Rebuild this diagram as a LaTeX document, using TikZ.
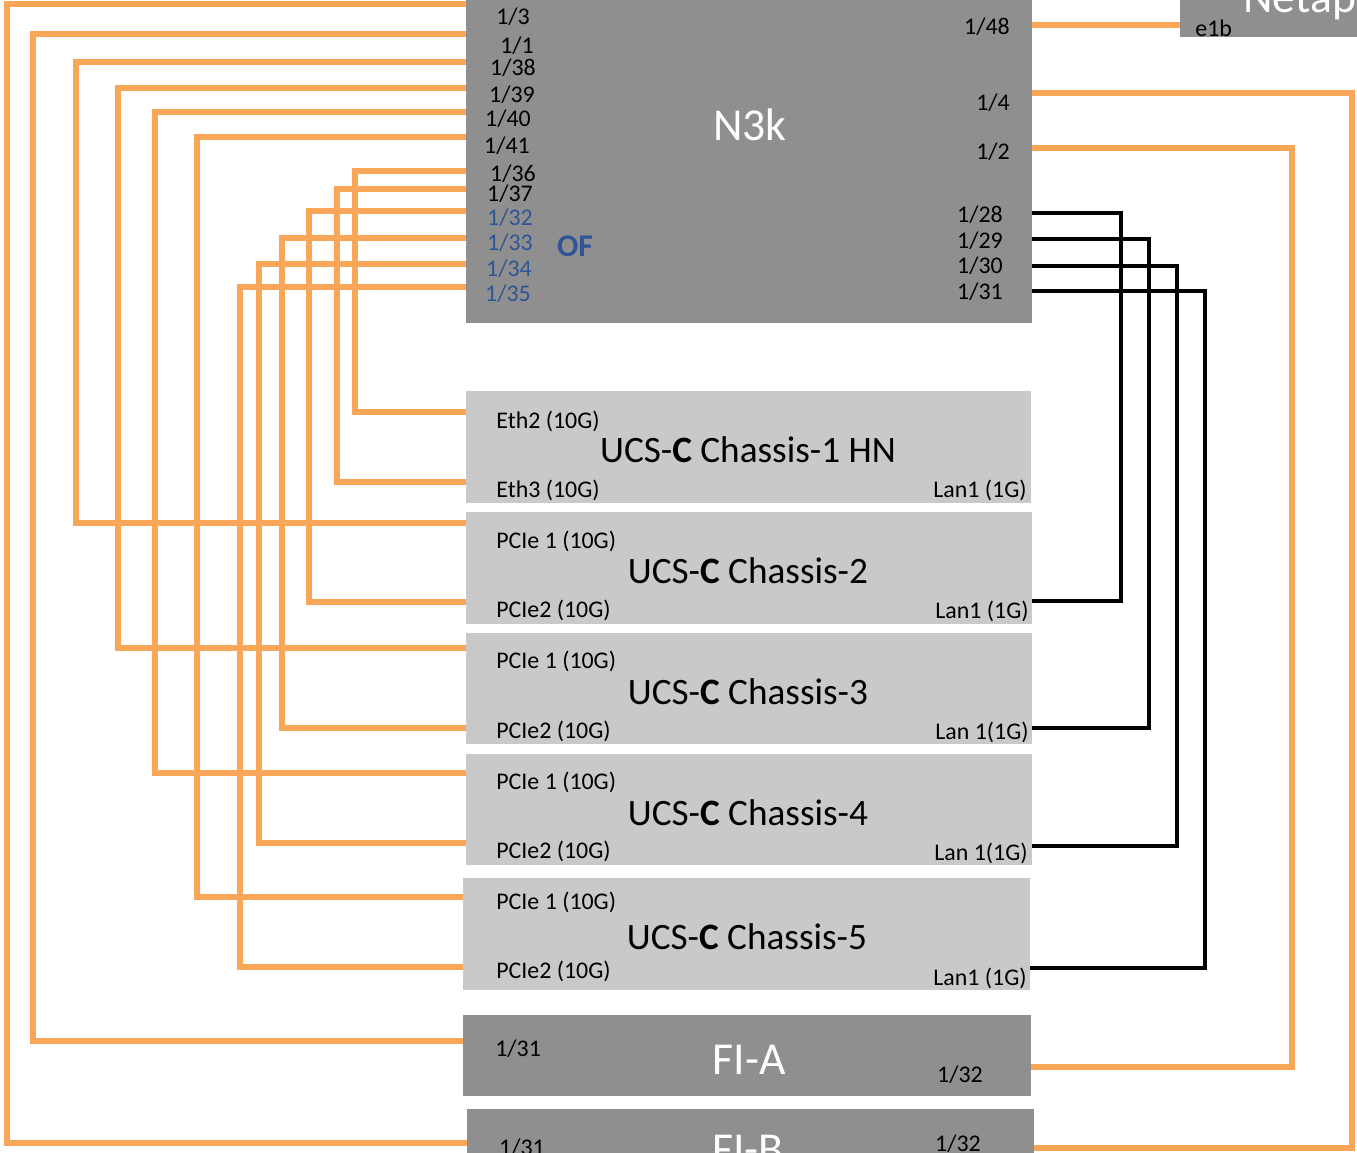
\documentclass[tikz,border=0pt]{standalone}
\usepackage{fontspec}
\setmainfont{Carlito}
\usetikzlibrary{positioning, calc}
\definecolor{wire_orange}{RGB}{249,166,88}
\definecolor{box_dark}{RGB}{143,143,143}
\definecolor{box_light}{RGB}{201,201,201}
\definecolor{of_blue}{RGB}{47,85,151}
\tikzstyle{owire} = [line width=3pt, draw=wire_orange]
\tikzstyle{bwire} = [line width=2.7pt, draw=black]
\tikzstyle{darkbox} = [rectangle, fill=box_dark, inner sep=0pt, anchor=north west]
\tikzstyle{lightbox} = [rectangle, fill=box_light, inner sep=0pt, anchor=north west]
\tikzstyle{port} = [inner sep=0pt, font=\fontsize{13.6}{15}\selectfont]
\tikzstyle{bigtitle} = [inner sep=0pt, font=\fontsize{26}{30}\selectfont, text=white]
\tikzstyle{chtitle} = [inner sep=0pt, font=\fontsize{21.2}{24}\selectfont]

\begin{document}
\begin{tikzpicture}[x=0.02cm, y=-0.02cm]
        \useasboundingbox (0,0) rectangle (1357,1153);
        \clip (0,0) rectangle (1357,1153);

        % boxes
        \node (n3k) [darkbox, minimum width=11.32cm, minimum height=6.86cm] at (466,-20) {};
        \node (netapp) [darkbox, minimum width=4cm, minimum height=1.14cm] at (1180,-20) {};
        \node (c1) [lightbox, minimum width=11.30cm, minimum height=2.24cm] at (466,391) {};
        \node (c2) [lightbox, minimum width=11.32cm, minimum height=2.24cm] at (466,512) {};
        \node (c3) [lightbox, minimum width=11.32cm, minimum height=2.22cm] at (466,633) {};
        \node (c4) [lightbox, minimum width=11.32cm, minimum height=2.22cm] at (466,754) {};
        \node (c5) [lightbox, minimum width=11.34cm, minimum height=2.24cm] at (463,878) {};
        \node (fia) [darkbox, minimum width=11.36cm, minimum height=1.62cm] at (463,1015) {};
        \node (fib) [darkbox, minimum width=11.34cm, minimum height=1.42cm] at (467,1109) {};

        % titles
        \node (n3k_title) [bigtitle] at (750,125) {N3k};
        \node (netapp_title) [bigtitle, anchor=base west] at (1243,12) {Netapp};
        \node (fia_title) [bigtitle, anchor=base] at (749,1074) {FI-A};
        \node (fib_title) [bigtitle, anchor=base] at (748,1164) {FI-B};
        \node (c1_title) [chtitle] at (748,450) {UCS-\textbf{C} Chassis-1 HN};
        \node (c2_title) [chtitle] at (748,571) {UCS-\textbf{C} Chassis-2};
        \node (c3_title) [chtitle] at (748,692) {UCS-\textbf{C} Chassis-3};
        \node (c4_title) [chtitle] at (748,813) {UCS-\textbf{C} Chassis-4};
        \node (c5_title) [chtitle] at (747,937) {UCS-\textbf{C} Chassis-5};
        \node (of) [inner sep=0pt, font=\fontsize{18}{20}\selectfont\bfseries, text=of_blue] at (575,246) {OF};

        % N3k port labels
        \foreach \p/\px/\py in {3/513/17, 1/517/46, 38/513/68, 39/512/95, 40/508/119, 41/507/146, 36/513/174, 37/510/194}
            \node (lbl_l\p) [port] at (\px,\py) {1/\p};
        \foreach \p/\px/\py in {32/510/218, 33/510/243, 34/509/269, 35/508/294}
            \node (lbl_l\p) [port, text=of_blue] at (\px,\py) {1/\p};
        \foreach \p/\px/\py in {48/987/27, 4/993/103, 2/993/152, 28/980/215, 29/980/241, 30/980/266, 31/980/292}
            \node (lbl_r\p) [port] at (\px,\py) {1/\p};
        \node (lbl_e1b) [port, anchor=base west] at (1195,36) {e1b};

        % chassis port labels
        \node (c1_eth2) [port, anchor=west] at (496,421) {Eth2 (10G)};
        \node (c1_eth3) [port, anchor=west] at (496,490) {Eth3 (10G)};
        \node (c1_lan) [port, anchor=east] at (1027,490) {Lan1 (1G)};
        \foreach \c/\ya/\yb in {2/541/610, 3/661/731, 4/782/851, 5/902/971} {
            \node (c\c_pcie1) [port, anchor=west] at (496,\ya) {PCIe 1 (10G)};
            \node (c\c_pcie2) [port, anchor=west] at (496,\yb) {PCIe2 (10G)};
        }
        \node (c2_lan) [port, anchor=east] at (1029,611) {Lan1 (1G)};
        \node (c3_lan) [port, anchor=east] at (1029,732) {Lan 1(1G)};
        \node (c4_lan) [port, anchor=east] at (1028,853) {Lan 1(1G)};
        \node (c5_lan) [port, anchor=east] at (1027,978) {Lan1 (1G)};
        \node (fia_31) [port, anchor=base west] at (495,1056) {1/31};
        \node (fia_32) [port, anchor=base] at (960,1082) {1/32};
        \node (fib_31) [port, anchor=base] at (522,1155) {1/31};
        \node (fib_32) [port, anchor=base] at (958,1151) {1/32};

        % wire ends
        \foreach \p/\py in {3/4, 1/34, 38/62, 39/88, 40/112, 41/137, 36/171, 37/189, 32/211, 33/238, 34/264, 35/287}
            \coordinate (n3k-l\p) at (466,\py);
        \foreach \p/\py in {48/25, 4/93, 2/148, 28/213, 29/239, 30/266, 31/291}
            \coordinate (n3k-r\p) at (1032,\py);
        \coordinate (c1-eth2) at (466,412);
        \coordinate (c1-eth3) at (466,482);
        \coordinate (c2-pcie1) at (466,523);
        \coordinate (c2-pcie2) at (466,602);
        \coordinate (c3-pcie1) at (466,648);
        \coordinate (c3-pcie2) at (466,728);
        \coordinate (c4-pcie1) at (466,773);
        \coordinate (c4-pcie2) at (466,843);
        \coordinate (c5-pcie1) at (463,897);
        \coordinate (c5-pcie2) at (463,967);
        \coordinate (fia-31) at (463,1041);
        \coordinate (fib-31) at (467,1143);
        \coordinate (c2-lan) at (1032,601);
        \coordinate (c3-lan) at (1032,728);
        \coordinate (c4-lan) at (1032,846);
        \coordinate (c5-lan) at (1030,968);
        \coordinate (fia-32) at (1031,1067);
        \coordinate (fib-32) at (1034,1148);
        \coordinate (netapp-e1b) at (1180,25);

        % orange links
        \foreach \s/\bx/\d in {n3k-l3/7/fib-31, n3k-l1/33/fia-31, n3k-l38/76/c2-pcie1, n3k-l39/118/c3-pcie1, n3k-l40/155/c4-pcie1, n3k-l41/197/c5-pcie1, n3k-l35/240/c5-pcie2, n3k-l34/259/c4-pcie2, n3k-l33/282/c3-pcie2, n3k-l32/309/c2-pcie2, n3k-l37/337/c1-eth3, n3k-l36/355/c1-eth2, n3k-r4/1352/fib-32, n3k-r2/1292/fia-32}
            \draw [owire] (\s) -- (\s -| \bx,0) -- (\d -| \bx,0) -- (\d);
        \draw [owire] (n3k-r48) -- (netapp-e1b);

        % black links
        \foreach \s/\bx/\d in {n3k-r28/1121/c2-lan, n3k-r29/1149/c3-lan, n3k-r30/1177/c4-lan, n3k-r31/1205/c5-lan}
            \draw [bwire] (\s) -- (\s -| \bx,0) -- (\d -| \bx,0) -- (\d);
\end{tikzpicture}
\end{document}
